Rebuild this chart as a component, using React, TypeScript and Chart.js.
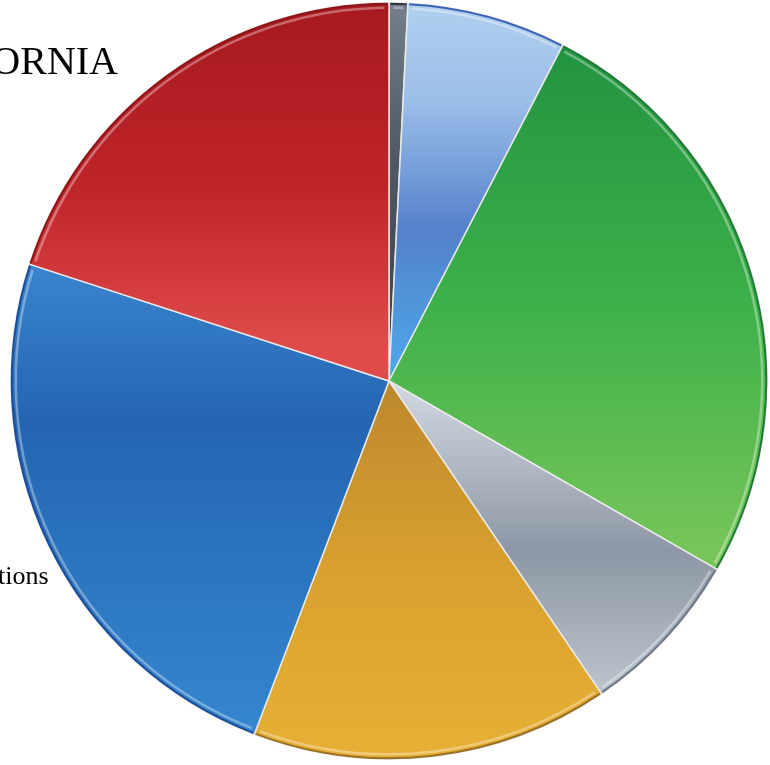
import React, { useEffect, useRef } from "react";
import { Chart, registerables } from "chart.js";

Chart.register(...registerables);

const TITLE = "CALIFORNIA";
const categories = [
  "Other",
  "Debt Service",
  "Health and Human Services",
  "Transportation",
  "Higher Education",
  "Operations",
  "K-12 Education",
];
const values = [0.8, 6.8, 25.7, 7.2, 15.3, 24.2, 20.0];
const outsideLabelIndex = 5;

// vertical gradient stops per slice (fraction of canvas height, colour)
const sliceGradients: [number, string][][] = [
  [[0, "#76808c"], [0.2, "#505a66"], [0.45, "#3a434e"]],
  [[0, "#b2cfef"], [0.13, "#9cbfe8"], [0.3, "#5581cb"], [0.5, "#4aaaea"]],
  [[0.05, "#229240"], [0.4, "#3db14a"], [0.75, "#7dc75b"]],
  [[0.5, "#d2d8e0"], [0.72, "#8d97a5"], [0.92, "#bfc8d0"]],
  [[0.5, "#bd882e"], [0.75, "#d9a12e"], [1, "#e7b035"]],
  [[0.3, "#3f8cd4"], [0.55, "#2465b1"], [0.95, "#3486ce"]],
  [[0, "#a6191f"], [0.25, "#bf2529"], [0.45, "#df4b4b"]],
];
const rimColors = ["#2e3640", "#3b64b8", "#1e7a34", "#6c7684", "#9a7024", "#1c4c98", "#8c1418"];

export default function App() {
  const ref = useRef<HTMLCanvasElement | null>(null);

  useEffect(() => {
    if (!ref.current) return;
    const textPlugin = {
      id: "textPlugin",
      afterDatasetsDraw(chart: any) {
        const c = chart.ctx;
        const meta = chart.getDatasetMeta(0);
        // rim shading
        meta.data.forEach((arc: any, i: number) => {
          const { x, y, startAngle, endAngle, outerRadius } = arc.getProps(
            ["x", "y", "startAngle", "endAngle", "outerRadius"],
            true
          );
          c.save();
          c.beginPath();
          c.arc(x, y, outerRadius - 1, startAngle + 0.003, endAngle - 0.003);
          c.strokeStyle = rimColors[i];
          c.lineWidth = 2;
          c.stroke();
          c.beginPath();
          c.arc(x, y, outerRadius - 5, startAngle + 0.012, endAngle - 0.012);
          c.strokeStyle = "rgba(255,255,255,0.35)";
          c.lineWidth = 2.5;
          c.stroke();
          c.restore();
        });
        c.save();
        c.fillStyle = "#000";
        c.textBaseline = "alphabetic";
        c.textAlign = "right";
        c.font = '40px "Liberation Serif", "Times New Roman", serif';
        c.fillText(TITLE, 118, 74);
        c.font = '26px "Liberation Serif", "Times New Roman", serif';
        c.fillText(categories[outsideLabelIndex], 48.5, 584);
        c.restore();
      },
    };

    const chart = new Chart(ref.current, {
      type: "pie",
      data: {
        labels: categories,
        datasets: [
          {
            data: values,
            backgroundColor: (ctx: any) => {
              const ch = ctx.chart;
              const stops = sliceGradients[ctx.dataIndex] || sliceGradients[0];
              const g = ch.ctx.createLinearGradient(0, 0, 0, ch.height || 765);
              stops.forEach(([p, col]) => g.addColorStop(p, col));
              return g;
            },
            borderColor: "rgba(235,235,235,0.95)",
            borderWidth: 1.5,
            hoverOffset: 0,
            offset: 0,
          },
        ],
      },
      options: {
        responsive: false,
        animation: false,
        rotation: 0,
        layout: { padding: { left: 10, right: 2, top: 2, bottom: 5 } },
        plugins: {
          legend: { display: false },
          title: { display: false },
          tooltip: { enabled: false },
        },
      },
      plugins: [textPlugin],
    });
    return () => chart.destroy();
  }, []);

  return (
    <div style={{ position: "absolute", left: 0, top: 0, width: 770, height: 765, background: "#fff" }}>
      <canvas ref={ref} width={770} height={765} style={{ display: "block" }} />
    </div>
  );
}
